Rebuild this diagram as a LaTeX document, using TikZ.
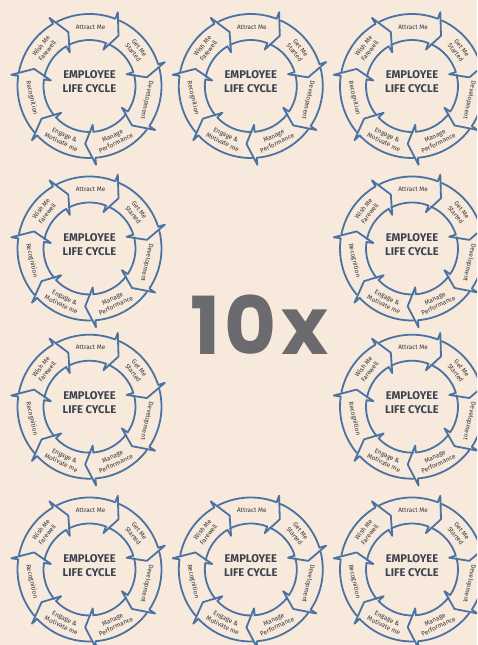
\documentclass[tikz,border=0pt]{standalone}
\usepackage{fontspec}
\setmainfont{Fira Sans}
\newfontfamily\bigfont{Poppins}
\definecolor{bg}{HTML}{F7E9DB}
\definecolor{ringblue}{HTML}{4A72A2}
\definecolor{titlegray}{HTML}{3C4250}
\definecolor{labelgray}{HTML}{35373C}
\definecolor{tengray}{HTML}{6B6B6F}
\tikzset{
  ringline/.style={draw=ringblue, line width=1.8pt, line join=round, line cap=round},
  lbl/.style={font=\fontsize{6.4}{7.8}\selectfont, align=center, text=labelgray, inner sep=0pt},
  ringtitle/.style={font=\bfseries\fontsize{11.2}{14}\selectfont, align=center, text=titlegray, inner sep=0pt},
}
\newcommand{\lifecycle}[3]{%
  \begin{scope}[shift={(#1,#2)}]
    \foreach \k/\txt/\rot [evaluate=\k as \ph using 90-\k*360/7] in
      {0/{Attract Me}/0, 1/{Get Me\\Started}/-51.4, 2/{Development}/-102.9,
       3/{Manage\\Performance}/25.7, 4/{Engage \&\\Motivate me}/-25.7,
       5/{Recognition}/-77.1, 6/{Wish Me\\Farewell}/51.4}
    {
      \draw[ringline] (\ph+27:72) arc[start angle=\ph+27, end angle=\ph-21, radius=72]
        -- (\ph-21:79) -- (\ph-30:58) -- (\ph-21:39) -- (\ph-21:46)
        arc[start angle=\ph-21, end angle=\ph+27, radius=46];
      \node[lbl, rotate=\rot] (#3-l\k) at (\ph-1:59) {\txt};
    }
    \node[ringtitle] (#3-t) at (0,4) {EMPLOYEE\\LIFE CYCLE};
  \end{scope}}
\begin{document}
\begin{tikzpicture}[x=1pt,y=1pt]
  \useasboundingbox (0,0) rectangle (477,645);
  \fill[bg] (0,0) rectangle (477,645);
  \clip (0,0) rectangle (477,645);
  \lifecycle{89.5}{559}{a}
  \lifecycle{250.8}{559}{b}
  \lifecycle{412}{559}{c}
  \lifecycle{89.5}{396.5}{d}
  \lifecycle{412}{396.5}{e}
  \lifecycle{89.5}{238.3}{f}
  \lifecycle{412}{238.3}{g}
  \lifecycle{89.5}{75.5}{h}
  \lifecycle{250.8}{75.5}{i}
  \lifecycle{412}{75.5}{j}
  \node[text=tengray, font=\bigfont\bfseries\fontsize{80}{80}\selectfont, anchor=base, inner sep=0pt] (ten) at (259.5,290) {1\hspace{4pt}0\hspace{5pt}x};
\end{tikzpicture}
\end{document}
